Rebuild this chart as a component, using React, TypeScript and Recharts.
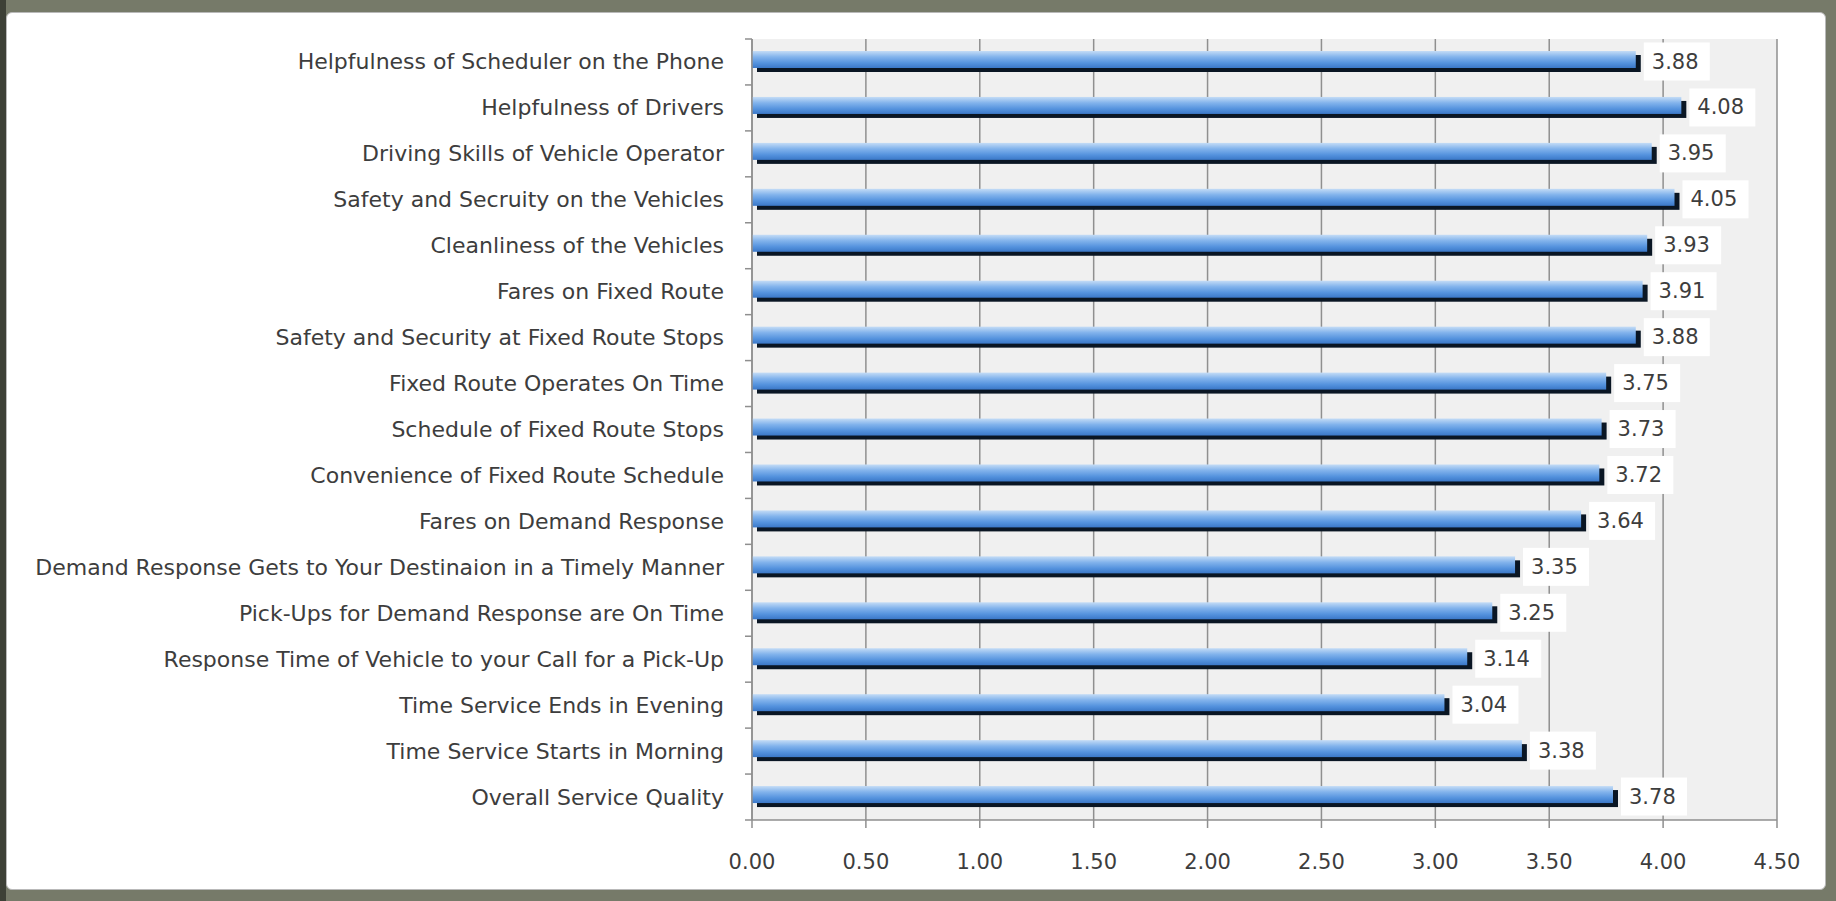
import { Bar, BarChart, CartesianGrid, LabelList, XAxis, YAxis } from "recharts"

const categories = [
  "Helpfulness of Scheduler on the Phone",
  "Helpfulness of Drivers",
  "Driving Skills of Vehicle Operator",
  "Safety and Secruity on the Vehicles",
  "Cleanliness of the Vehicles",
  "Fares on Fixed Route",
  "Safety and Security at Fixed Route Stops",
  "Fixed Route Operates On Time",
  "Schedule of Fixed Route Stops",
  "Convenience of Fixed Route Schedule",
  "Fares on Demand Response",
  "Demand Response Gets to Your Destinaion in a Timely Manner",
  "Pick-Ups for Demand Response are On Time",
  "Response Time of Vehicle to your Call for a Pick-Up",
  "Time Service Ends in Evening",
  "Time Service Starts in Morning",
  "Overall Service Quality",
]

const scores = [3.88, 4.08, 3.95, 4.05, 3.93, 3.91, 3.88, 3.75, 3.73, 3.72, 3.64, 3.35, 3.25, 3.14, 3.04, 3.38, 3.78]

const xTicks = [0, 0.5, 1, 1.5, 2, 2.5, 3, 3.5, 4, 4.5]

const data = categories.map((name, i) => ({ name, score: scores[i] }))

const FONT = "'DejaVu Sans', sans-serif"
const TEXT = "#3d3d3d"
const PLOT_TOP = 26
const PLOT_BOTTOM = 807
const BAND = (PLOT_BOTTOM - PLOT_TOP) / categories.length

// excel-style ticks sit between the categories, not on them
function CategoryTick(props: any) {
  const { x, y, payload, index } = props
  const last = index === categories.length - 1
  return (
    <g>
      <line x1={x - 7} x2={x} y1={y - BAND / 2} y2={y - BAND / 2} stroke="#8f8f8f" strokeWidth={1.5} />
      {last && <line x1={x - 7} x2={x} y1={y + BAND / 2} y2={y + BAND / 2} stroke="#8f8f8f" strokeWidth={1.5} />}
      <text x={x - 28} y={y} textAnchor="end" dominantBaseline="central" fontFamily={FONT} fontSize={22} fill={TEXT}>
        {payload.value}
      </text>
    </g>
  )
}

function ShadowBar(props: any) {
  const { x, y, width, height } = props
  if (!width) return null
  return (
    <g>
      <rect x={x + 5} y={y + 2} width={width} height={height} fill="#0a1624" />
      <rect x={x} y={y - 2} width={width} height={height} fill="url(#barGrad)" />
    </g>
  )
}

function ValueLabel(props: any) {
  const { x, y, width, height, value } = props
  const cy = y + height / 2
  const bx = x + width + 8
  return (
    <g>
      <rect x={bx} y={cy - 19} width={66} height={38} fill="#ffffff" />
      <text x={bx + 8} y={cy} dominantBaseline="central" fontFamily={FONT} fontSize={21} fill={TEXT}>
        {Number(value).toFixed(2)}
      </text>
    </g>
  )
}

export default function App() {
  return (
    <div style={{ position: "fixed", left: 0, top: 0, width: 1836, height: 901, background: "#767a69", overflow: "hidden" }}>
      <div style={{ position: "absolute", left: 0, top: 0, width: 6, height: 901, background: "#3d4036" }} />
      <div
        style={{
          position: "absolute",
          left: 6,
          top: 12,
          width: 1820,
          height: 878,
          boxSizing: "border-box",
          border: "1px solid #b9b9b9",
          borderRadius: 6,
          background: "#ffffff",
        }}
      >
        <BarChart
          width={1818}
          height={876}
          data={data}
          layout="vertical"
          barCategoryGap={0}
          margin={{ top: PLOT_TOP, right: 48, left: 0, bottom: 0 }}
        >
          <defs>
            <linearGradient id="barGrad" x1="0" y1="0" x2="0" y2="1">
              <stop offset="0%" stopColor="#c4dcf6" />
              <stop offset="35%" stopColor="#82b3ec" />
              <stop offset="70%" stopColor="#5593de" />
              <stop offset="100%" stopColor="#3b78c8" />
            </linearGradient>
          </defs>
          <CartesianGrid horizontal={false} fill="#f0f0f0" stroke="#8f8f8f" strokeWidth={1.5} />
          <XAxis
            type="number"
            domain={[0, 4.5]}
            ticks={xTicks}
            tickFormatter={(v: number) => v.toFixed(2)}
            height={69}
            tickSize={8}
            tickMargin={26}
            stroke="#8f8f8f"
            strokeWidth={1.5}
            tick={{ fontFamily: FONT, fontSize: 21, fill: TEXT }}
          />
          <YAxis
            type="category"
            dataKey="name"
            width={745}
            tickLine={false}
            tickSize={0}
            tickMargin={0}
            stroke="#8f8f8f"
            strokeWidth={1.5}
            interval={0}
            tick={(p: any) => <CategoryTick {...p} />}
          />
          <Bar dataKey="score" barSize={17} shape={(p: any) => <ShadowBar {...p} />} isAnimationActive={false}>
            <LabelList dataKey="score" content={(p: any) => <ValueLabel {...p} />} />
          </Bar>
        </BarChart>
      </div>
    </div>
  )
}
